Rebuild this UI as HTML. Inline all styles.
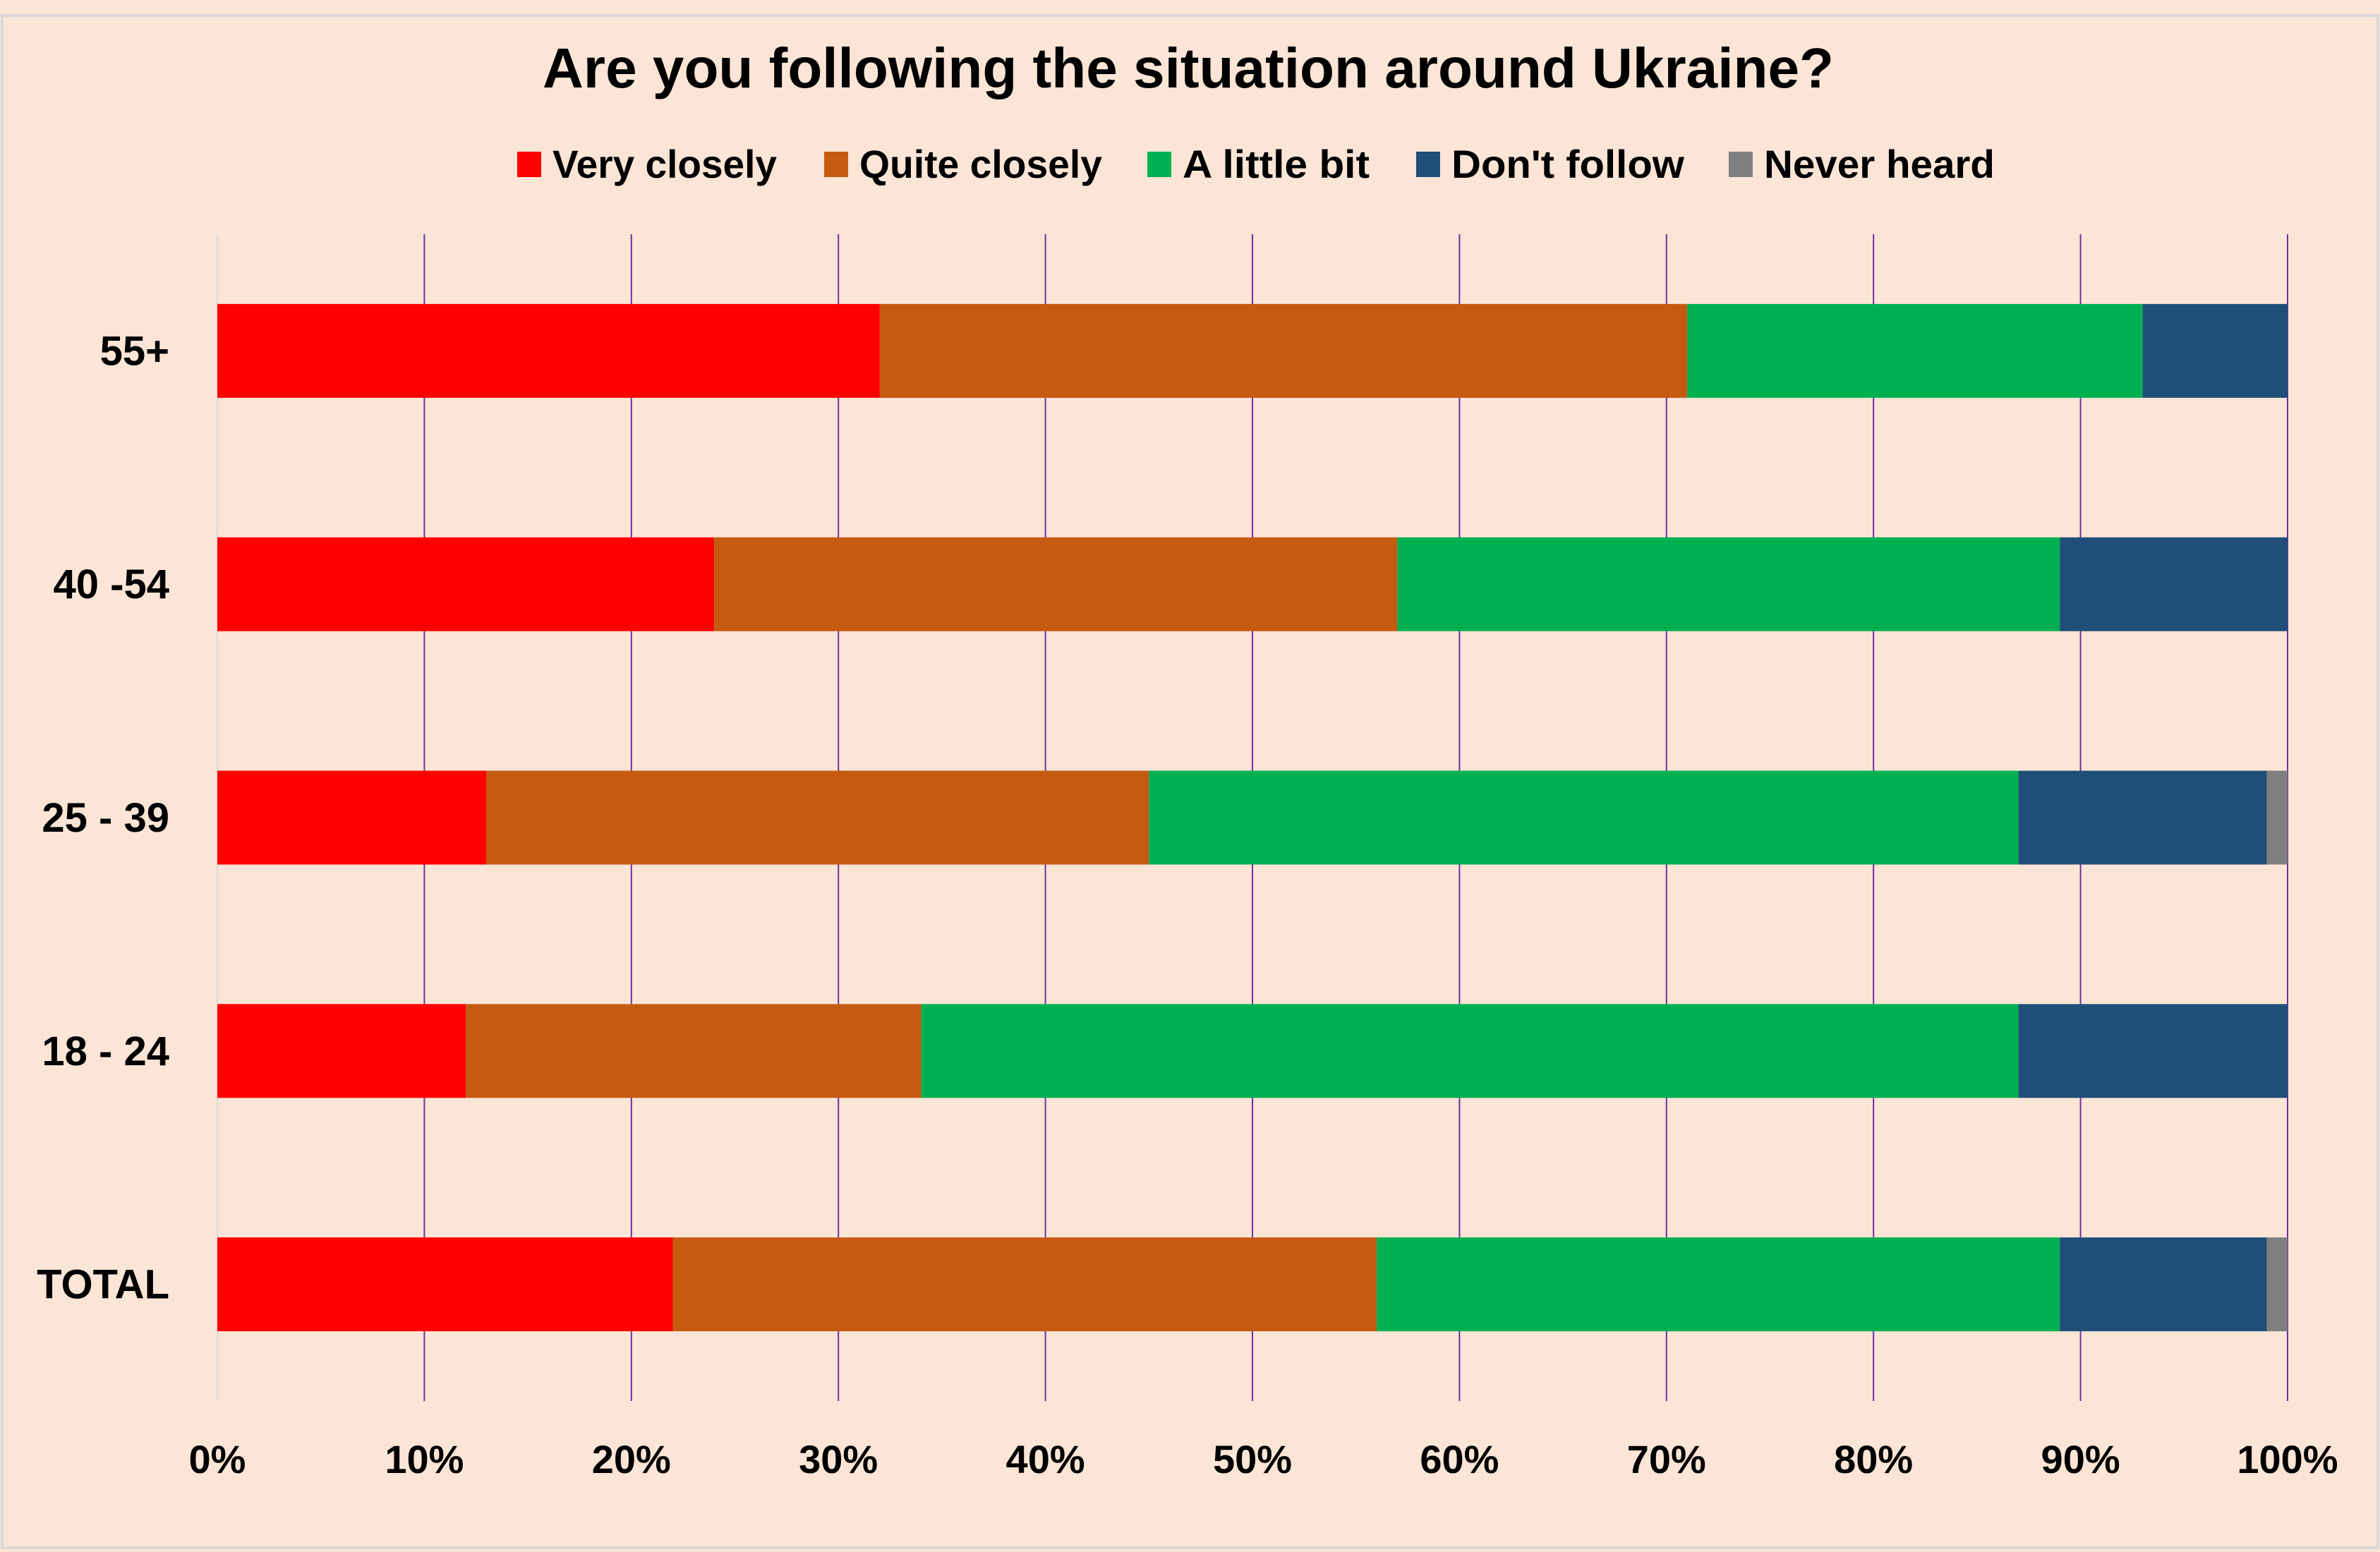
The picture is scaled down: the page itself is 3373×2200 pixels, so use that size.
<!DOCTYPE html>
<html><head><meta charset="utf-8"><style>
html,body{margin:0;padding:0;background:#FBE5D6;}
svg{display:block;font-family:"Liberation Sans",sans-serif;font-weight:bold;}
</style></head><body>
<svg id="chart" width="3373" height="2200" viewBox="0 0 3373 2200" xmlns="http://www.w3.org/2000/svg">
<rect x="3" y="22" width="3367" height="2172" fill="#FBE5D6" stroke="#D9D9D9" stroke-width="4"/>
<text x="1684" y="124" text-anchor="middle" font-size="80" textLength="1830" lengthAdjust="spacingAndGlyphs">Are you following the situation around Ukraine?</text>
<g id="legend"></g>
<g id="grid"></g>
<g id="bars"></g>
<g id="ylabels"></g>
<g id="xlabels"></g>
</svg>
<script>
const categories = ["55+", "40 -54", "25 - 39", "18 - 24", "TOTAL"];
const seriesNames = ["Very closely", "Quite closely", "A little bit", "Don't follow", "Never heard"];
const veryClosely = [32, 24, 13, 12, 22];
const quiteClosely = [39, 33, 32, 22, 34];
const littleBit = [22, 32, 42, 53, 33];
const dontFollow = [7, 11, 12, 13, 10];
const neverHeard = [0, 0, 1, 0, 1];
const xTicks = ["0%", "10%", "20%", "30%", "40%", "50%", "60%", "70%", "80%", "90%", "100%"];

const series = [veryClosely, quiteClosely, littleBit, dontFollow, neverHeard];
const colors = ["#FF0000", "#C55A11", "#00B050", "#1F4E79", "#7F7F7F"];
const NS = "http://www.w3.org/2000/svg";
const X0 = 308, X1 = 3242, TOP = 332, BOT = 1986;
const x = v => X0 + (X1 - X0) * v / 100;
const bandH = (BOT - TOP) / categories.length;
const barH = 133;
const yc = i => TOP + bandH * (i + 0.5);
function mk(tag, attrs, parent) {
  const e = document.createElementNS(NS, tag);
  for (const k in attrs) e.setAttribute(k, attrs[k]);
  parent.appendChild(e);
  return e;
}
const grid = document.getElementById('grid');
xTicks.forEach((t, i) => {
  const v = i * 10;
  const l = mk('line', {x1: x(v), x2: x(v), y1: TOP, y2: BOT, stroke: i === 0 ? '#D9D9D9' : '#7030A0', 'stroke-width': 2}, grid);
  
  
});
const xl = document.getElementById('xlabels');
xTicks.forEach((t, i) => {
  const tx = mk('text', {x: x(i * 10), y: 2088, 'text-anchor': 'middle', 'font-size': 56}, xl);
  tx.textContent = t;
  
  
});
const bars = document.getElementById('bars');
const yl = document.getElementById('ylabels');
categories.forEach((c, i) => {
  let acc = 0;
  series.forEach((s, k) => {
    const v = s[i];
    if (v > 0) {
      const r = mk('rect', {x: x(acc), y: yc(i) - barH / 2, width: x(acc + v) - x(acc), height: barH, fill: colors[k]}, bars);
      
      
    }
    acc += v;
  });
  const t = mk('text', {x: 240, y: yc(i) + 20, 'text-anchor': 'end', 'font-size': 58}, yl);
  t.textContent = c;
  
  
});
const legend = document.getElementById('legend');
const legX = [733, 1168, 1626, 2007, 2450];
const legW = [318, 344, 265, 330, 327];
seriesNames.forEach((n, k) => {
  const r = mk('rect', {x: legX[k], y: 215, width: 34, height: 36, fill: colors[k]}, legend);
  
  
  const t = mk('text', {x: legX[k] + 50, y: 252, 'font-size': 56, textLength: legW[k], lengthAdjust: 'spacingAndGlyphs'}, legend);
  t.textContent = n;
  
  
});
</script>
</body></html>
